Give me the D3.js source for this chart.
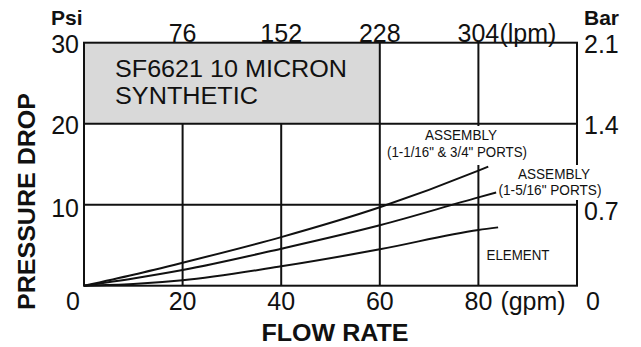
<!DOCTYPE html>
<html>
<head>
<meta charset="utf-8">
<script src="https://cdn.jsdelivr.net/npm/d3@7"></script>
<style>
  html, body { margin: 0; padding: 0; background: #fff; }
  svg { display: block; }
  text { font-family: "Liberation Sans", Arial, Helvetica, sans-serif; fill: #111; }
</style>
</head>
<body>
<script>
// ---- data ----
const gpmTicks = [20, 40, 60, 80];
const lpmTicks = ["76", "152", "228", "304"];
const psiTicks = [10, 20, 30];
const barTicks = ["0.7", "1.4", "2.1"];

const flowAsmSmall = [0, 10, 20, 40, 60, 80, 82];
const psiAsmSmall  = [0, 1.36, 2.84, 6.0, 9.68, 14.2, 14.7];
const flowAsmLarge = [0, 10, 20, 40, 60, 80, 83.6];
const psiAsmLarge  = [0, 0.9, 1.94, 4.57, 7.46, 10.9, 11.5];
const flowElement  = [0, 10, 20, 40, 60, 80, 84];
const psiElement   = [0, 0.2, 0.66, 2.39, 4.49, 6.88, 7.2];

const W = 641, H = 347;
const svg = d3.select("body").append("svg").attr("width", W).attr("height", H);

const x = d3.scaleLinear().domain([0, 100]).range([84, 577]);
const y = d3.scaleLinear().domain([0, 30]).range([285.7, 42.7]);

// gray title box
svg.append("rect")
  .attr("x", x(0)).attr("y", y(30))
  .attr("width", x(60) - x(0)).attr("height", y(20) - y(30))
  .attr("fill", "#d9d9d9");

const grid = svg.append("g").attr("stroke", "#111").attr("stroke-width", 2).attr("fill", "none");
psiTicks.filter(v => v < 30).forEach(v => {
  grid.append("line").attr("x1", x(0)).attr("x2", x(100)).attr("y1", y(v)).attr("y2", y(v));
});
gpmTicks.forEach(v => {
  grid.append("line").attr("x1", x(v)).attr("x2", x(v))
    .attr("y1", v < 60 ? y(20) : y(30)).attr("y2", y(0));
});
grid.append("rect").attr("x", x(0)).attr("y", y(30))
  .attr("width", x(100) - x(0)).attr("height", y(0) - y(30));

// curves
const line = d3.line().x(d => x(d[0])).y(d => y(d[1])).curve(d3.curveMonotoneX);
[[flowAsmSmall, psiAsmSmall], [flowAsmLarge, psiAsmLarge], [flowElement, psiElement]].forEach(([fx, fy]) => {
  svg.append("path").datum(fx.map((v, i) => [v, fy[i]]))
    .attr("d", line).attr("fill", "none").attr("stroke", "#111").attr("stroke-width", 2);
});

// label backgrounds
svg.append("rect").attr("x", 385).attr("y", 126).attr("width", 143).attr("height", 39).attr("fill", "#fff");
svg.append("rect").attr("x", 497).attr("y", 165).attr("width", 106).attr("height", 35).attr("fill", "#fff");

// curve labels
function lab(txt, cx, by, len, fs) {
  svg.append("text").attr("x", cx).attr("y", by).attr("text-anchor", "middle")
    .attr("font-size", fs).attr("textLength", len).attr("lengthAdjust", "spacingAndGlyphs").text(txt);
}
lab("ASSEMBLY", 461, 140, 72, 15);
lab("(1-1/16\" & 3/4\" PORTS)", 457, 157, 140, 15);
lab("ASSEMBLY", 554, 179, 72, 14);
lab("(1-5/16\" PORTS)", 550, 195, 103, 14);
lab("ELEMENT", 518, 260, 63, 15);

// title
svg.append("text").attr("x", 115).attr("y", 77).attr("font-size", 23)
  .attr("textLength", 232).attr("lengthAdjust", "spacingAndGlyphs").text("SF6621 10 MICRON");
svg.append("text").attr("x", 115).attr("y", 104).attr("font-size", 23)
  .attr("textLength", 143).attr("lengthAdjust", "spacingAndGlyphs").text("SYNTHETIC");

// bottom gpm tick labels
gpmTicks.forEach(v => {
  svg.append("text").attr("x", x(v)).attr("y", 310).attr("text-anchor", "middle")
    .attr("font-size", 25).text(v);
});
svg.append("text").attr("x", x(80) + 22).attr("y", 310).attr("font-size", 25).text("(gpm)");
// top lpm tick labels
lpmTicks.forEach((t, i) => {
  svg.append("text").attr("x", x(gpmTicks[i])).attr("y", 41.5).attr("text-anchor", "middle")
    .attr("font-size", 25).text(t);
});
svg.append("text").attr("x", x(80) + 21).attr("y", 41.5).attr("font-size", 25).text("(lpm)");

// left psi tick labels
psiTicks.forEach(v => {
  svg.append("text").attr("x", 79).attr("y", y(v) + (v === 10 ? 12.5 : 10.5)).attr("text-anchor", "end")
    .attr("font-size", 25).text(v);
});
svg.append("text").attr("x", 80).attr("y", 310).attr("text-anchor", "end").attr("font-size", 25).text("0");
// right bar tick labels
barTicks.forEach((t, i) => {
  svg.append("text").attr("x", 584).attr("y", y(psiTicks[i]) + (i === 0 ? 15 : 10.5))
    .attr("font-size", 25).text(t);
});
svg.append("text").attr("x", 586).attr("y", 310).attr("font-size", 25).text("0");

// unit headers
svg.append("text").attr("x", 51).attr("y", 25).attr("font-size", 21).attr("font-weight", "bold").text("Psi");
svg.append("text").attr("x", 584).attr("y", 25).attr("font-size", 21).attr("font-weight", "bold").text("Bar");

// axis titles
svg.append("text").attr("transform", "translate(35,201.5) rotate(-90)").attr("text-anchor", "middle")
  .attr("font-size", 24).attr("font-weight", "bold")
  .attr("textLength", 217).attr("lengthAdjust", "spacingAndGlyphs").text("PRESSURE DROP");
svg.append("text").attr("x", 335).attr("y", 340.5).attr("text-anchor", "middle")
  .attr("font-size", 24).attr("font-weight", "bold")
  .attr("textLength", 147).attr("lengthAdjust", "spacingAndGlyphs").text("FLOW RATE");
</script>
</body>
</html>
